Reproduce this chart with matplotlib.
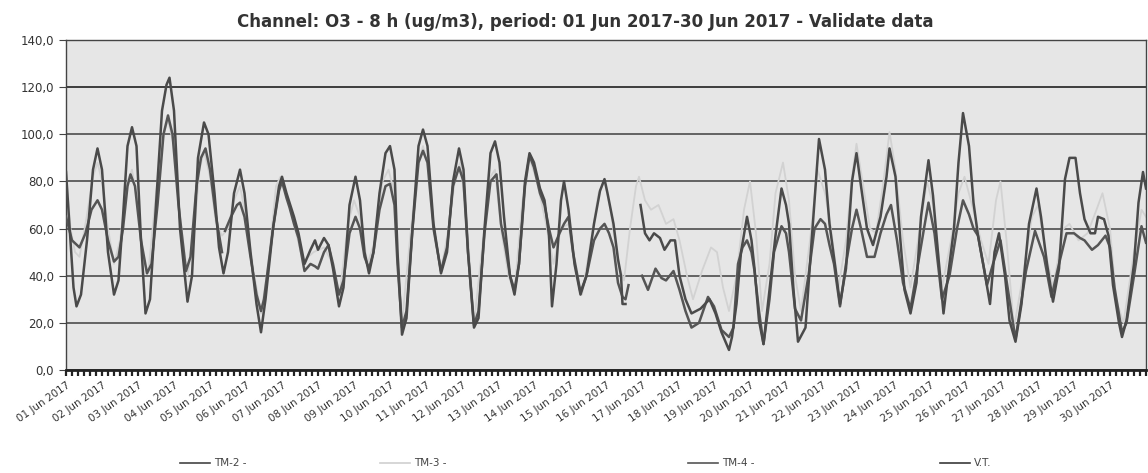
import numpy as np
import matplotlib
matplotlib.use("Agg")
import matplotlib.pyplot as plt
from matplotlib.lines import Line2D

nan = np.nan

# hours from 01 Jun 2017 00:00, values in ug/m3 (8h running mean of O3)
tm2_hours = [0, 3, 5, 7, 10, 14, 18, 21, 24, 28, 32, 35, 38, 41, 44, 47, 50, 53, 56, 60,
             64, 67, 69, 72, 76, 81, 84, 88, 92, 95, 99, 102, 105, 108, 112, 116, 119, 123, 127, 130,
             133, 138, 142, 144, 147, 149, 152, 155, 159, 163, 166, 168, 172, 175, 178, 182, 185, 189, 193, 196,
             199, 202, 205, 209, 213, 216, 219, 221, 224, 227, 231, 235, 238, 241, 245, 250, 254, 258, 262, 265,
             268, 272, 275, 279, 283, 286, 289, 292, 296, 299, 302, 306, 309, 312, 316, 319, 322, 324, 327, 330,
             332, 335, 339, 343, 347, 352, 356, 359, 361, 365, 368, 370, 371, 373, 378, 383, 386, 389, 392, 396,
             399, 403, 406, 409, 413, 417, 423, 429, 433, 437, 442, 444, 447, 450, 454, 457, 459, 462, 465, 469,
             473, 477, 480, 482, 485, 488, 493, 497, 502, 506, 509, 513, 516, 520, 524, 527, 530, 534, 538, 543,
             547, 549, 553, 556, 559, 563, 567, 570, 575, 578, 582, 585, 588, 592, 595, 598, 602, 605, 608, 612,
             616, 619, 622, 626, 629, 633, 637, 642, 647, 650, 654, 658, 662, 666, 669, 673, 676, 679, 683, 686,
             688, 692, 695, 698, 702, 704, 707, 712, 715, 718, 720]
tm2_values = [84, 55, 35, 27, 32, 55, 85, 94, 85, 50, 32, 38, 65, 95, 103, 95, 55, 24, 30, 70,
              110, 121, 124, 110, 60, 29, 40, 90, 105, 100, 75, 52, 41, 50, 75, 85, 75, 50, 28, 16,
              30, 60, 78, 82, 75, 71, 65, 58, 45, 51, 55, 51, 56, 53, 43, 27, 35, 70, 82, 72,
              50, 41, 50, 75, 92, 95, 85, 50, 15, 22, 60, 95, 102, 95, 62, 41, 50, 80, 94, 85,
              50, 18, 22, 60, 92, 97, 88, 65, 40, 32, 45, 80, 92, 88, 77, 72, 57, 27, 45, 72,
              80, 68, 45, 32, 40, 62, 76, 81, 75, 62, 47, 40, 28, 28, nan, 70, 58, 55, 58, 56,
              51, 55, 55, 40, 30, 24, 26, 30, 24, 16, 8.5, 14, 28, 50, 65, 55, 43, 21, 11, 34,
              57, 77, 70, 62, 34, 12, 18, 54, 98, 85, 62, 43, 28, 43, 80, 92, 78, 60, 53, 65,
              82, 94, 82, 57, 34, 24, 37, 65, 89, 74, 45, 24, 40, 60, 88, 109, 95, 71, 57, 43,
              28, 50, 58, 40, 21, 12, 28, 62, 77, 65, 45, 29, 43, 81, 90, 90, 75, 64, 58, 58,
              65, 64, 57, 36, 20, 14, 21, 45, 71, 84, 77]

tm3_hours = [0, 3, 6, 9, 13, 18, 21, 24, 28, 32, 36, 41, 44, 48, 52, 55, 60, 65, 68, 72,
             76, 81, 85, 89, 92, 96, 100, 104, 108, 112, 116, 120, 125, 130, 135, 140, 143, 147, 152, 158,
             165, 172, 178, 182, 188, 192, 196, 201, 206, 211, 215, 219, 224, 230, 235, 238, 242, 246, 250, 255,
             260, 263, 267, 272, 278, 283, 286, 290, 295, 299, 304, 309, 314, 320, 325, 330, 335, 340, 344, 350,
             355, 359, 363, 368, 372, 376, 380, 382, 386, 390, 395, 400, 405, 409, 414, 418, 424, 430, 434, 438,
             442, 447, 452, 456, 460, 464, 469, 473, 478, 482, 486, 490, 496, 501, 506, 510, 515, 520, 524, 527,
             531, 536, 540, 545, 549, 553, 558, 563, 568, 574, 578, 584, 590, 595, 599, 604, 610, 615, 620, 623,
             627, 632, 638, 644, 648, 653, 658, 665, 669, 675, 681, 687, 691, 696, 700, 705, 712, 717, 720]
tm3_values = [85, 60, 50, 48, 62, 82, 88, 80, 60, 45, 55, 80, 85, 70, 45, 42, 75, 100, 106, 95,
              65, 40, 55, 85, 93, 82, 62, 57, 60, 72, 78, 65, 42, 24, 45, 78, 82, 74, 62, 46,
              50, 52, 45, 30, 62, 72, 65, 45, 55, 80, 85, 75, 20, 60, 88, 95, 85, 55, 42, 60,
              84, 88, 65, 20, 55, 82, 85, 60, 40, 33, 70, 90, 80, 62, 45, 60, 62, 40, 32, 55,
              75, 80, 68, 45, 38, 60, 78, 82, 72, 68, 70, 62, 64, 55, 40, 30, 42, 52, 50, 35,
              25, 40, 68, 80, 58, 25, 45, 75, 88, 72, 40, 25, 55, 85, 75, 60, 35, 55, 82, 96,
              80, 60, 58, 80, 101, 85, 55, 35, 55, 80, 70, 35, 55, 75, 82, 70, 55, 45, 72, 80,
              55, 18, 40, 65, 70, 50, 35, 60, 62, 55, 58, 68, 75, 60, 30, 20, 50, 68, 65]

tm4_hours = [0, 4, 9, 13, 17, 21, 24, 28, 32, 35, 38, 41, 43, 46, 50, 54, 57, 61, 65, 68,
             71, 75, 80, 83, 87, 90, 93, 96, 100, 104, 105, 106, 110, 114, 116, 119, 123, 127, 130, 132,
             134, 138, 142, 144, 147, 149, 152, 155, 159, 163, 166, 168, 172, 175, 178, 182, 185, 189, 193, 196,
             199, 202, 205, 209, 213, 216, 219, 221, 224, 227, 231, 235, 238, 241, 245, 250, 254, 258, 262, 265,
             268, 272, 275, 279, 283, 287, 290, 293, 296, 299, 302, 306, 309, 312, 316, 319, 322, 325, 329, 332,
             335, 338, 343, 347, 352, 356, 359, 362, 365, 368, 371, 373, 375, 380, 384, 388, 393, 397, 400, 405,
             409, 413, 417, 422, 428, 432, 437, 442, 445, 448, 451, 454, 457, 459, 462, 465, 469, 472, 477, 480,
             482, 486, 490, 495, 499, 503, 506, 509, 512, 516, 520, 524, 527, 530, 534, 539, 543, 547, 550, 554,
             558, 563, 568, 572, 575, 579, 584, 589, 594, 598, 602, 605, 608, 610, 614, 618, 623, 627, 633, 640,
             646, 652, 657, 662, 667, 672, 676, 679, 684, 688, 693, 696, 699, 704, 707, 712, 717, 720]
tm4_values = [65, 55, 52, 58, 68, 72, 68, 55, 46, 48, 60, 78, 83, 78, 55, 41, 45, 70, 100, 108,
              100, 70, 42, 48, 78, 90, 94, 85, 65, 50, nan, 59, 65, 70, 71, 65, 48, 32, 25, 30,
              40, 60, 76, 80, 73, 69, 62, 56, 42, 45, 44, 43, 50, 53, 45, 32, 38, 58, 65, 60,
              48, 43, 50, 68, 78, 79, 70, 45, 18, 25, 60, 88, 93, 88, 60, 42, 52, 78, 86, 80,
              50, 19, 25, 58, 80, 83, 62, 52, 40, 34, 45, 78, 91, 86, 75, 70, 60, 52, 58, 62,
              65, 50, 33, 40, 55, 60, 62, 58, 52, 37, 31, 30, 36, nan, 40, 34, 43, 39, 38, 42,
              34, 25, 18, 20, 31, 27, 17, 14, 18, 45, 52, 55, 50, 42, 25, 11, 30, 50, 61, 58,
              50, 26, 21, 40, 60, 64, 62, 53, 45, 27, 45, 60, 68, 60, 48, 48, 58, 66, 70, 55,
              37, 26, 45, 60, 71, 58, 30, 40, 60, 72, 66, 60, 57, 50, 36, 45, 55, 38, 13, 42,
              59, 48, 31, 45, 58, 58, 56, 55, 51, 53, 57, 52, 35, 16, 20, 40, 61, 54]

vt_hours = [0, 720]
vt_values = [120, 120]

day_labels = ["%02d Jun 2017" % d for d in range(1, 31)]
day_hours = [24 * i for i in range(30)]

fig = plt.figure(figsize=(11.48, 4.73), dpi=100)
ax = fig.add_axes([66 / 1148, 1 - 370 / 473, 1080 / 1148, 330 / 473])
ax.set_facecolor("#e6e6e6")

ax.set_ylim(0, 140)
ax.set_xlim(0, 720)
ax.set_yticks(np.arange(0, 141, 20))
ax.set_yticklabels([("%.1f" % v).replace(".", ",") for v in np.arange(0, 141, 20)],
                   fontsize=8.5, color="#333333")
ax.yaxis.grid(True, color="#4d4d4d", lw=1.2)
ax.set_axisbelow(True)

ax.plot(tm3_hours, tm3_values, color="#d2d2d2", lw=1.3, zorder=2)
ax.plot(tm4_hours, tm4_values, color="#555555", lw=1.8, zorder=3)
ax.plot(tm2_hours, tm2_values, color="#4a4a4a", lw=1.8, zorder=4)
ax.plot(vt_hours, vt_values, color="#3a3a3a", lw=1.2, zorder=1)

ax.set_xticks(day_hours)
ax.set_xticklabels(day_labels, rotation=35, ha="right", rotation_mode="anchor",
                   fontsize=7.5, color="#333333")
ax.set_xticks(np.arange(0, 721, 4), minor=True)
ax.tick_params(axis="x", which="both", length=4, width=1.6, color="#222222")
ax.tick_params(axis="y", length=5, color="#444444")

for s in ax.spines.values():
    s.set_color("#444444")
    s.set_linewidth(1.0)
ax.spines["bottom"].set_color("#222222")
ax.spines["bottom"].set_linewidth(2)

fig.text(585 / 1148, 1 - 22 / 473,
         "Channel: O3 - 8 h (ug/m3), period: 01 Jun 2017-30 Jun 2017 - Validate data",
         ha="center", va="center", fontsize=12, fontweight="bold", color="#333333")

# legend along the bottom
legend_items = [("TM-2 -", 180, "#444444"), ("TM-3 -", 380, "#cfcfcf"),
                ("TM-4 -", 688, "#555555"), ("V.T.", 940, "#3a3a3a")]
ly = 1 - 463 / 473
for name, x0, col in legend_items:
    fig.add_artist(Line2D([x0 / 1148, (x0 + 30) / 1148], [ly, ly], color=col, lw=1.2))
    fig.text((x0 + 34) / 1148, ly, name, fontsize=7.5, va="center", color="#444444")

fig.savefig("out.png", dpi=100)
